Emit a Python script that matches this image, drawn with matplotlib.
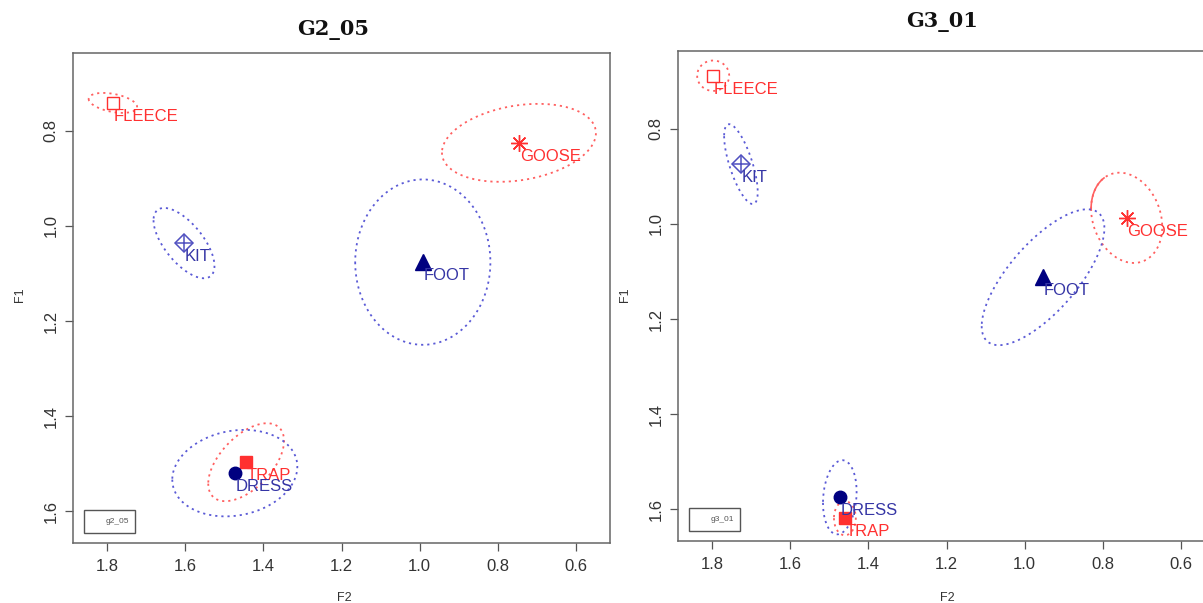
import numpy as np
import matplotlib
matplotlib.use('Agg')
import matplotlib.pyplot as plt
from matplotlib.patches import Rectangle

# ---------------- data ----------------
panel_titles = ['G2_05', 'G3_01']
legend_labels = ['g2_05', 'g3_01']
categories = ['FLEECE', 'GOOSE', 'KIT', 'FOOT', 'TRAP', 'DRESS']

# panel 1 (G2_05): means and ellipse spread
g2_f2 = [1.785, 0.746, 1.603, 0.992, 1.444, 1.473]
g2_f1 = [0.741, 0.825, 1.036, 1.076, 1.497, 1.520]
g2_sd_f2 = [0.062, 0.197, 0.078, 0.173, 0.097, 0.160]
g2_sd_f1 = [0.021, 0.082, 0.074, 0.174, 0.082, 0.091]
g2_rho = [-0.4, 0.25, -0.65, 0.0, 0.55, 0.15]

# panel 2 (G3_01)
g3_f2 = [1.797, 0.739, 1.726, 0.953, 1.460, 1.473]
g3_f1 = [0.688, 0.987, 0.874, 1.112, 1.619, 1.575]
g3_sd_f2 = [0.041, 0.091, 0.043, 0.157, 0.028, 0.043]
g3_sd_f1 = [0.032, 0.095, 0.084, 0.143, 0.036, 0.078]
g3_rho = [0.0, -0.2, -0.7, 0.72, 0.0, 0.15]

x_ticks = [1.8, 1.6, 1.4, 1.2, 1.0, 0.8, 0.6]
y_ticks = [0.8, 1.0, 1.2, 1.4, 1.6]
x_tick_labels = ['1.8', '1.6', '1.4', '1.2', '1.0', '0.8', '0.6']
y_tick_labels = ['0.8', '1.0', '1.2', '1.4', '1.6']

# ---------------- styles ----------------
RED = '#ff3030'
RED_ELL = '#ff6060'
BLUE_ELL = '#5a5ad6'
NAVY = '#000080'
BLUE_TXT = '#3535a5'
KIT_COL = '#5050c0'

cat_group = {'FLEECE': 'red', 'GOOSE': 'red', 'TRAP': 'red',
             'KIT': 'blue', 'FOOT': 'blue', 'DRESS': 'blue'}

plt.rcParams['font.family'] = ['Liberation Sans', 'DejaVu Sans']

fig = plt.figure(figsize=(12.03, 6.03), dpi=100)
W, H = 1203.0, 603.0
ax1 = fig.add_axes([73 / W, (H - 543) / H, 537 / W, 490 / H])
ax2 = fig.add_axes([678 / W, (H - 541) / H, 537 / W, 490 / H])


def ellipse_pts(cx, cy, sx, sy, rho, t):
    x = cx + sx * np.cos(t)
    y = cy + sy * (rho * np.cos(t) + np.sqrt(1 - rho ** 2) * np.sin(t))
    return x, y


def draw_marker(ax, cat, x, y):
    if cat == 'FLEECE':
        ax.plot([x], [y], marker='s', ms=9, mfc='none', mec=RED, mew=1.0, ls='none', zorder=5)
    elif cat == 'GOOSE':
        ax.plot([x], [y], marker=(8, 2, 0), ms=12, mec=RED, mew=1.0, ls='none', zorder=5)
    elif cat == 'KIT':
        ax.plot([x], [y], marker='D', ms=9, mfc='none', mec=KIT_COL, mew=1.1, ls='none', zorder=5)
        ax.plot([x], [y], marker='+', ms=12, mec=KIT_COL, mew=1.1, ls='none', zorder=5)
    elif cat == 'FOOT':
        ax.plot([x], [y], marker='^', ms=11, mfc=NAVY, mec=NAVY, ls='none', zorder=5)
    elif cat == 'TRAP':
        ax.plot([x], [y], marker='s', ms=8.5, mfc=RED, mec=RED, ls='none', zorder=5)
    elif cat == 'DRESS':
        ax.plot([x], [y], marker='o', ms=9, mfc=NAVY, mec=NAVY, ls='none', zorder=5)


panels = [
    (ax1, g2_f2, g2_f1, g2_sd_f2, g2_sd_f1, g2_rho),
    (ax2, g3_f2, g3_f1, g3_sd_f2, g3_sd_f1, g3_rho),
]

t = np.linspace(0, 2 * np.pi, 300)
for i, (ax, xs, ys, sxs, sys_, rhos) in enumerate(panels):
    for cat, x, y, sx, sy, r in zip(categories, xs, ys, sxs, sys_, rhos):
        grp = cat_group[cat]
        ecol = RED_ELL if grp == 'red' else BLUE_ELL
        ex, ey = ellipse_pts(x, y, sx, sy, r, t)
        ax.plot(ex, ey, color=ecol, lw=1.3, ls=(0, (1.2, 2.2)), zorder=2)
        if i == 1 and cat == 'GOOSE':
            ts = np.linspace(-0.88, 0.0, 40)
            sx_, sy_ = ellipse_pts(x, y, sx, sy, r, ts)
            ax.plot(sx_, sy_, color=ecol, lw=1.2, ls='-', zorder=2)
        draw_marker(ax, cat, x, y)
        tcol = RED if grp == 'red' else BLUE_TXT
        ax.annotate(cat, (x, y), xytext=(0.5, -13), textcoords='offset points',
                    ha='left', va='baseline', fontsize=12, color=tcol, zorder=6)

    ax.set_xlim(1.887, 0.513)
    ax.set_ylim(1.667, 0.636)
    ax.set_xticks(x_ticks)
    ax.set_xticklabels(x_tick_labels)
    ax.set_yticks(y_ticks)
    ax.set_yticklabels(y_tick_labels, rotation=90, va='center')
    ax.tick_params(direction='out', length=5.5, width=0.9, colors='#555555',
                   labelcolor='#333333', labelsize=12, pad=5)
    ax.tick_params(axis='x', pad=6)
    for sp in ax.spines.values():
        sp.set_color('#666666')
        sp.set_linewidth(1.1)

    # legend box
    ax.add_patch(Rectangle((0.020, 0.021), 0.095, 0.047, transform=ax.transAxes,
                           fill=False, ec='#555555', lw=1.0, zorder=7))
    ax.text(0.105, 0.0445, legend_labels[i], transform=ax.transAxes, ha='right',
            va='center', fontsize=6, color='#555555', zorder=7)

# axis labels and titles
fig.text(344 / W, 1 - 598 / H, 'F2', ha='center', va='center', fontsize=9, color='#333333')
fig.text(947 / W, 1 - 598 / H, 'F2', ha='center', va='center', fontsize=9, color='#333333')
fig.text(20 / W, 1 - 295 / H, 'F1', ha='center', va='center', rotation=90, fontsize=9, color='#333333')
fig.text(625 / W, 1 - 295 / H, 'F1', ha='center', va='center', rotation=90, fontsize=9, color='#333333')

fig.text(333 / W, 1 - 30 / H, panel_titles[0], ha='center', va='center', fontsize=15,
         fontweight='bold', family='DejaVu Serif', color='#111111')
fig.text(942 / W, 1 - 22 / H, panel_titles[1], ha='center', va='center', fontsize=15,
         fontweight='bold', family='DejaVu Serif', color='#111111')

fig.savefig('out.png', dpi=100)
